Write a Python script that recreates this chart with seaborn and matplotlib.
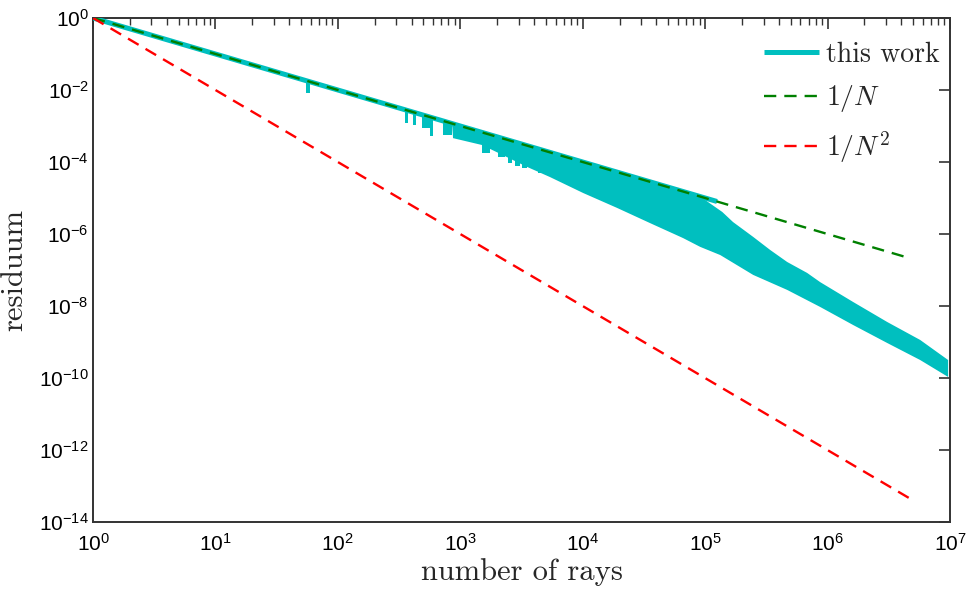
import numpy as np
import pandas as pd
import matplotlib
matplotlib.use("Agg")
import matplotlib.pyplot as plt
import seaborn as sns
from matplotlib.ticker import LogLocator, NullLocator, FixedLocator, LogFormatterSciNotation, NullFormatter
from matplotlib.font_manager import FontProperties

# ---------------- data ----------------
# "this work": thin part (single line) along its top
line_n = [1.0, 1.25e5]
line_res = [1.0, 8.0e-6]

# noisy band of "this work": upper and lower envelopes
band_top_n = [857, 9.1e4, 1.38e5, 1.69e5, 2.47e5, 3.40e5, 4.68e5, 6.81e5, 8.71e5, 1.62e6, 3.07e6, 5.71e6, 9.66e6]
band_top = [1.17e-3, 1.1e-5, 4.1e-6, 2.15e-6, 8.3e-7, 3.6e-7, 1.67e-7, 8.3e-8, 4.6e-8, 1.29e-8, 3.6e-9, 1.14e-9, 3.16e-10]
band_bot_n = [857, 873, 1507, 3516, 5420, 1.007e4, 1.91e4, 3.56e4, 6.61e4, 9.1e4, 1.33e5, 2.47e5,
              4.68e5, 8.71e5, 1.62e6, 3.07e6, 5.71e6, 9.66e6]
band_bot = [1.17e-3, 4.6e-4, 2.96e-4, 7.3e-5, 3.8e-5, 1.38e-5, 5.3e-6, 2.0e-6, 7.7e-7, 4.4e-7, 2.6e-7,
            7.3e-8, 2.8e-8, 9.4e-9, 2.96e-9, 9.4e-10, 3.16e-10, 1.07e-10]

# downward spikes: start N, end N, top value, bottom value
dip_start = [55, 354, 411, 488, 567, 723, 1507, 2037, 2460, 2806, 3200, 4325]
dip_end = [59, 375, 435, 567, 600, 857, 1751, 2322, 2650, 3083, 3515, 4745]
dip_top = [1.8e-2, 2.8e-3, 2.4e-3, 2.0e-3, 1.7e-3, 1.4e-3, 4.0e-4, 2.5e-4, 1.8e-4, 1.5e-4, 1.2e-4, 8.0e-5]
dip_bot = [8.3e-3, 1.21e-3, 1.07e-3, 8.8e-4, 5.3e-4, 5.6e-4, 1.78e-4, 1.38e-4, 9.4e-5, 7.7e-5, 6.8e-5, 4.9e-5]

# reference slopes
ref_n = [1.0, 4.6e6]
ref_inv_n = [1.0, 2.17e-7]
ref_inv_n2 = [1.0, 4.7e-14]

labels = ["this work", r"$1/N$", r"$1/N^2$"]
x_ticks = [1e0, 1e1, 1e2, 1e3, 1e4, 1e5, 1e6, 1e7]
y_ticks = [1e0, 1e-2, 1e-4, 1e-6, 1e-8, 1e-10, 1e-12, 1e-14]

# ---------------- styling ----------------
sns.set_theme(style="white")
plt.rcParams["font.family"] = ["Liberation Sans", "DejaVu Sans"]
plt.rcParams["mathtext.fontset"] = "custom"
plt.rcParams["mathtext.rm"] = "Liberation Sans"
plt.rcParams["mathtext.it"] = "Liberation Sans:italic"
plt.rcParams["mathtext.bf"] = "Liberation Sans:bold"

CYAN = "#00BFBF"
GREEN = "#008000"
RED = "#FF0000"
AXC = "#333333"

fig = plt.figure(figsize=(9.66, 5.94), dpi=100)
ax = fig.add_axes([0.0963, 0.1212, 0.8871, 0.8485])
ax.set_xscale("log")
ax.set_yscale("log")

# band polygon
poly_x = list(band_top_n) + list(band_bot_n[::-1])
poly_y = list(band_top) + list(band_bot[::-1])
ax.fill(poly_x, poly_y, color=CYAN, lw=0, zorder=2)
for s, e, t, b in zip(dip_start, dip_end, dip_top, dip_bot):
    ax.fill([s, e, e, s], [t, t, b, b], color=CYAN, lw=0, zorder=2)

df_line = pd.DataFrame({"N": line_n, "r": line_res})
sns.lineplot(data=df_line, x="N", y="r", ax=ax, color=CYAN, lw=3.6, label=labels[0],
             estimator=None, sort=False, zorder=3, solid_capstyle="butt")
df_g = pd.DataFrame({"N": ref_n, "r": ref_inv_n})
sns.lineplot(data=df_g, x="N", y="r", ax=ax, color=GREEN, lw=1.7, label=labels[1],
             estimator=None, sort=False, zorder=4, linestyle=(0, (5.2, 3.4)))
df_r = pd.DataFrame({"N": ref_n, "r": ref_inv_n2})
sns.lineplot(data=df_r, x="N", y="r", ax=ax, color=RED, lw=1.7, label=labels[2],
             estimator=None, sort=False, zorder=4, linestyle=(0, (5.2, 3.4)))

ax.set_xlim(1, 1e7)
ax.set_ylim(1e-14, 1)

ax.xaxis.set_major_locator(FixedLocator(x_ticks))
ax.xaxis.set_minor_locator(LogLocator(base=10, subs=np.arange(2, 10), numticks=20))
ax.xaxis.set_minor_formatter(NullFormatter())
ax.yaxis.set_major_locator(FixedLocator(y_ticks))
ax.yaxis.set_minor_locator(NullLocator())
ax.xaxis.set_major_formatter(LogFormatterSciNotation(base=10))
ax.yaxis.set_major_formatter(LogFormatterSciNotation(base=10))

ax.tick_params(axis="both", which="both", direction="in", top=True, right=True,
               color=AXC, labelcolor="black", labelsize=15)
ax.tick_params(which="major", length=8, width=1.2)
ax.tick_params(which="minor", length=5, width=1.0)
ax.tick_params(axis="x", pad=8)
ax.tick_params(axis="y", pad=3)
for sp in ax.spines.values():
    sp.set_visible(True)
    sp.set_color(AXC)
    sp.set_linewidth(1.4)

ax.set_xlabel("number of rays", fontfamily="cmr10", fontsize=22, labelpad=2)
ax.set_ylabel("residuum", fontfamily="cmr10", fontsize=22, labelpad=8)
ax.grid(False)

leg_prop = FontProperties(family="cmr10", size=20, math_fontfamily="cm")
leg = ax.legend(loc="upper right", bbox_to_anchor=(1.001, 0.975), frameon=False, prop=leg_prop,
                handlelength=2.0, handletextpad=0.25, labelspacing=0.55, borderaxespad=0.0)

fig.savefig("out.png", dpi=100)
